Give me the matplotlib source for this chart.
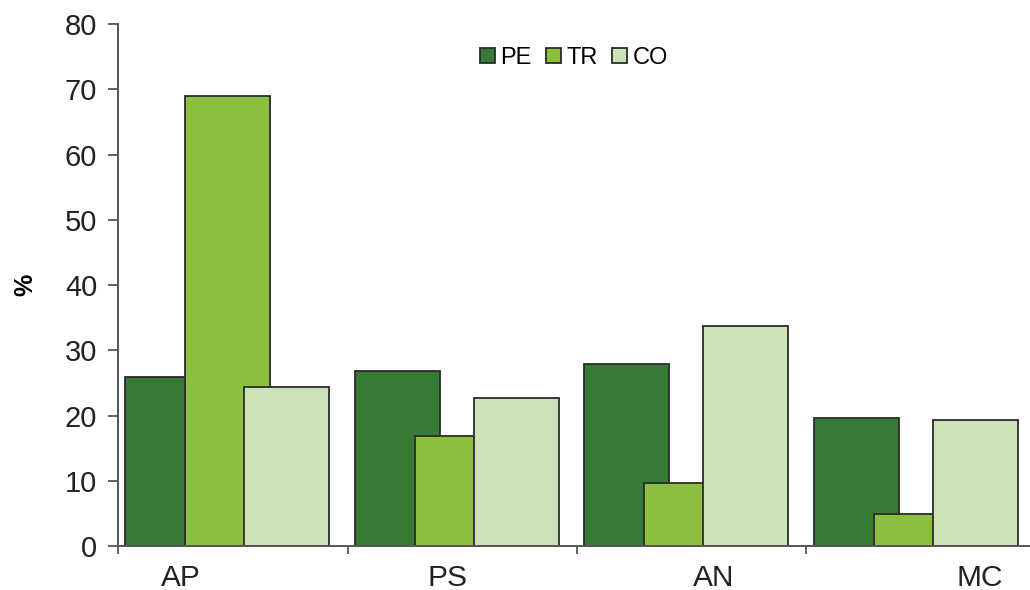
import numpy as np
import matplotlib
matplotlib.use("Agg")
import matplotlib.pyplot as plt

# Data
categories = ["AP", "PS", "AN", "MC"]
series = ["PE", "TR", "CO"]
pe = [25.9, 26.9, 27.9, 19.6]
tr = [69.0, 16.8, 9.6, 4.9]
co = [24.4, 22.7, 33.7, 19.3]
label_pos = [0.275, 1.434, 2.597, 3.756]  # where the category names sit (not centred in the original)

colors = ["#367a36", "#8dbf3f", "#cce2b7"]

plt.rcParams['font.family'] = ['Liberation Sans', 'DejaVu Sans']

fig = plt.figure(figsize=(10.3, 5.9), dpi=100)
ax = fig.add_axes([0.1146, 0.0746, 0.8854, 0.8844])

# bars overlap each other: each one drawn on top of the previous series
x = np.arange(len(categories))
width = 0.37
offsets = [0.032, 0.293, 0.55]
for vals, off, col, name in zip([pe, tr, co], offsets, colors, series):
    ax.bar(x + off, vals, width=width, align="edge", color=col,
           edgecolor="#2b2b2b", linewidth=1.3, label=name)

ax.set_xlim(0, 3.974)
ax.set_ylim(0, 80)
ax.set_yticks(np.arange(0, 81, 10))
ax.tick_params(axis="y", direction="out", length=7, width=1.3, labelsize=21, colors="#222222", pad=8)
ax.tick_params(axis="y", color="#555555")

ax.set_xticks(label_pos)
ax.set_xticklabels(categories)
ax.set_xticks(np.arange(0, 4), minor=True)
ax.tick_params(axis="x", which="major", length=0, labelsize=21.5, colors="#222222", pad=13)
ax.tick_params(axis="x", which="minor", direction="out", length=6, width=1.3, color="#555555")

for s in ["top", "right"]:
    ax.spines[s].set_visible(False)
for s in ["left", "bottom"]:
    ax.spines[s].set_linewidth(1.4)
    ax.spines[s].set_color("#555555")

ax.set_ylabel("%", fontsize=18, fontweight="bold", labelpad=20)

ax.legend(loc="upper center", bbox_to_anchor=(0.5, 1.0), ncol=3, frameon=False,
          fontsize=17, handlelength=0.62, handleheight=0.62, handletextpad=0.25,
          columnspacing=0.6, borderaxespad=0.55)

fig.savefig("out.png", dpi=100)
